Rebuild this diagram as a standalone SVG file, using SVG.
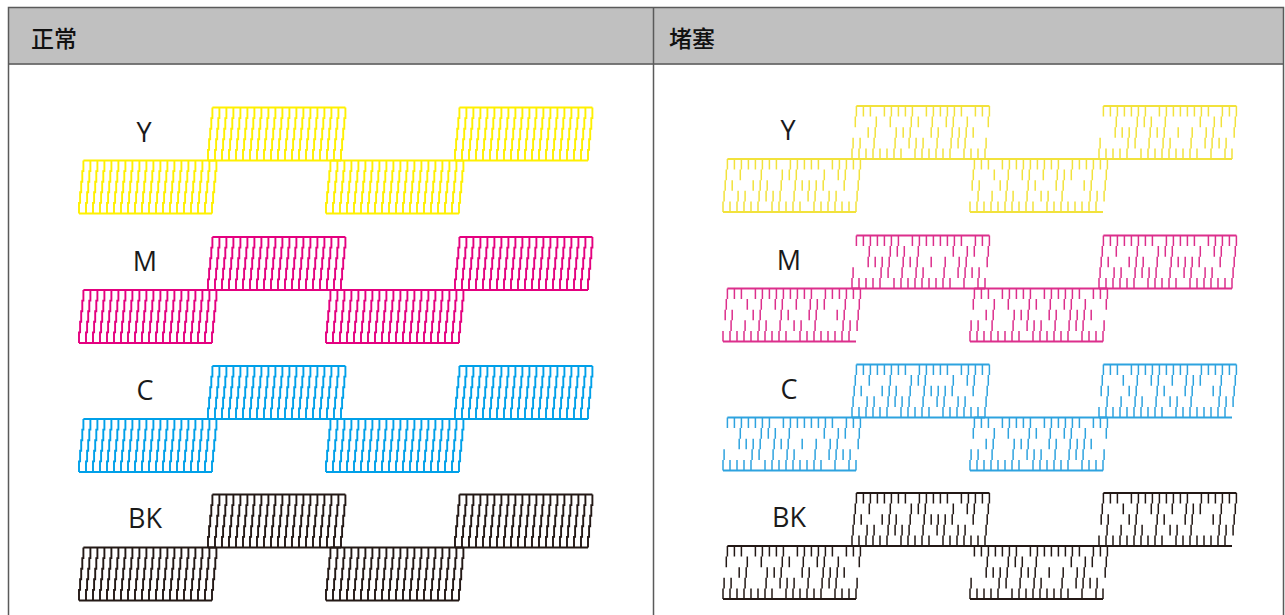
<svg xmlns="http://www.w3.org/2000/svg" xmlns:xlink="http://www.w3.org/1999/xlink" width="1285" height="615" viewBox="0 0 1285 615">
<style>
.hdr{font-family:"Noto Sans CJK SC","Noto Sans",sans-serif;font-size:23px;font-weight:500;fill:#111}
.lbl{font-family:"Open Sans","Noto Sans",sans-serif;font-size:27px;fill:#1a1a1a;text-anchor:middle}
</style>
<defs>
<g id="nb" fill="none" stroke="currentColor" stroke-width="1.9">
<path d="M0 53v-10.6h1.1v-10.6h1.1v-10.6h1.1v-10.6h1.1v-10.6m2.6 53v-10.6h1.1v-10.6h1.1v-10.6h1.1v-10.6h1.1v-10.6m2.6 53v-10.6h1.1v-10.6h1.1v-10.6h1.1v-10.6h1.1v-10.6m2.6 53v-10.6h1.1v-10.6h1.1v-10.6h1.1v-10.6h1.1v-10.6m2.6 53v-10.6h1.1v-10.6h1.1v-10.6h1.1v-10.6h1.1v-10.6m2.6 53v-10.6h1.1v-10.6h1.1v-10.6h1.1v-10.6h1.1v-10.6m2.6 53v-10.6h1.1v-10.6h1.1v-10.6h1.1v-10.6h1.1v-10.6m2.6 53v-10.6h1.1v-10.6h1.1v-10.6h1.1v-10.6h1.1v-10.6m2.6 53v-10.6h1.1v-10.6h1.1v-10.6h1.1v-10.6h1.1v-10.6m2.6 53v-10.6h1.1v-10.6h1.1v-10.6h1.1v-10.6h1.1v-10.6m2.6 53v-10.6h1.1v-10.6h1.1v-10.6h1.1v-10.6h1.1v-10.6m2.6 53v-10.6h1.1v-10.6h1.1v-10.6h1.1v-10.6h1.1v-10.6m2.6 53v-10.6h1.1v-10.6h1.1v-10.6h1.1v-10.6h1.1v-10.6m2.6 53v-10.6h1.1v-10.6h1.1v-10.6h1.1v-10.6h1.1v-10.6m2.6 53v-10.6h1.1v-10.6h1.1v-10.6h1.1v-10.6h1.1v-10.6m2.6 53v-10.6h1.1v-10.6h1.1v-10.6h1.1v-10.6h1.1v-10.6m2.6 53v-10.6h1.1v-10.6h1.1v-10.6h1.1v-10.6h1.1v-10.6m2.6 53v-10.6h1.1v-10.6h1.1v-10.6h1.1v-10.6h1.1v-10.6m2.6 53v-10.6h1.1v-10.6h1.1v-10.6h1.1v-10.6h1.1v-10.6m2.6 53v-10.6h1.1v-10.6h1.1v-10.6h1.1v-10.6h1.1v-10.6"/>
<path d="M4.4 0H137.4M0 53H133"/>
</g>
<path id="ka" d="M0 53v-10.6m1.1 0v-10.6m1.1 0v-10.6m1.1 0v-10.6m1.1 0v-10.6"/>
<path id="kb" d="M0 53v-10.6m1.1-10.6m1.1 0v-10.6m1.1 0v-10.6m1.1 0v-10.6"/>
<path id="kc" d="M0 53v-10.6m1.1 0v-10.6m1.1-10.6m1.1 0v-10.6m1.1 0v-10.6"/>
<path id="kd" d="M0 53v-10.6m1.1 0v-10.6m1.1 0v-10.6m1.1-10.6m1.1 0v-10.6"/>
<path id="ke" d="M0 53v-10.6m1.1 0v-10.6m1.1 0v-10.6m1.1 0v-10.6"/>
<path id="kf" d="M0 53v-10.6m1.1-10.6m1.1 0v-10.6m1.1-10.6m1.1 0v-10.6"/>
<path id="kg" d="M0 53m0-10.6m1.1 0v-10.6m1.1 0v-10.6m1.1 0v-10.6m1.1 0v-10.6"/>
<path id="kh" d="M0 53v-10.6m1.1 0v-10.6m1.1-10.6m1.1-10.6m1.1 0v-10.6"/>
<path id="ki" d="M0 53m0-10.6m1.1 0v-10.6m1.1 0v-10.6m1.1-10.6m1.1 0v-10.6"/>
<path id="kj" d="M0 53v-10.6m1.1-10.6m1.1 0v-10.6m1.1 0v-10.6"/>
<path id="kk" d="M0 53v-10.6m1.1-10.6m1.1-10.6m1.1 0v-10.6m1.1 0v-10.6"/>
<path id="kl" d="M0 53v-10.6m1.1 0v-10.6m1.1-10.6m1.1 0v-10.6"/>
<path id="kn" d="M0 53m0-10.6m1.1 0v-10.6m1.1-10.6m1.1 0v-10.6m1.1 0v-10.6"/>
<path id="kp" d="M0 53v-10.6m1.1-10.6m1.1-10.6m1.1-10.6m1.1 0v-10.6"/>
<path id="khl" d="M4.4 0H137.4M0 53H133" stroke-width="1.8"/>
<g id="c1" fill="none" stroke="currentColor" stroke-width="1.5">
<use href="#khl"/>
<use href="#ka" x="0"/><use href="#kf" x="7"/><use href="#kc" x="14"/><use href="#kh" x="21"/><use href="#kf" x="28"/><use href="#ka" x="35"/><use href="#ki" x="42"/><use href="#kh" x="49"/><use href="#ke" x="56"/><use href="#kk" x="63"/><use href="#ka" x="70"/><use href="#kf" x="77"/><use href="#ki" x="84"/><use href="#kd" x="91"/><use href="#kj" x="98"/><use href="#kh" x="105"/><use href="#kc" x="112"/><use href="#kb" x="119"/><use href="#kp" x="126"/><use href="#ka" x="133"/>
</g>
<g id="c2" fill="none" stroke="currentColor" stroke-width="1.5">
<use href="#khl"/>
<use href="#kc" x="0"/><use href="#kh" x="7"/><use href="#kf" x="14"/><use href="#ke" x="21"/><use href="#kp" x="28"/><use href="#kk" x="35"/><use href="#kd" x="42"/><use href="#kf" x="49"/><use href="#kg" x="56"/><use href="#kl" x="63"/><use href="#kh" x="70"/><use href="#kb" x="77"/><use href="#kd" x="84"/><use href="#kk" x="91"/><use href="#ka" x="98"/><use href="#ki" x="105"/><use href="#ke" x="112"/><use href="#kf" x="119"/><use href="#kp" x="126"/><use href="#kc" x="133"/>
</g>
<g id="c3" fill="none" stroke="currentColor" stroke-width="1.5">
<use href="#khl"/>
<use href="#kb" x="0"/><use href="#kd" x="7"/><use href="#kp" x="14"/><use href="#kl" x="21"/><use href="#kf" x="28"/><use href="#ka" x="35"/><use href="#kh" x="42"/><use href="#kk" x="49"/><use href="#ka" x="56"/><use href="#kf" x="63"/><use href="#kn" x="70"/><use href="#kh" x="77"/><use href="#kb" x="84"/><use href="#ke" x="91"/><use href="#kk" x="98"/><use href="#kp" x="105"/><use href="#kf" x="112"/><use href="#ka" x="119"/><use href="#kh" x="126"/><use href="#kg" x="133"/>
</g>
<g id="c4" fill="none" stroke="currentColor" stroke-width="1.5">
<use href="#khl"/>
<use href="#kh" x="0"/><use href="#kp" x="7"/><use href="#kb" x="14"/><use href="#kf" x="21"/><use href="#kd" x="28"/><use href="#kg" x="35"/><use href="#kk" x="42"/><use href="#ke" x="49"/><use href="#kf" x="56"/><use href="#ka" x="63"/><use href="#kh" x="70"/><use href="#kf" x="77"/><use href="#kp" x="84"/><use href="#kd" x="91"/><use href="#kk" x="98"/><use href="#ki" x="105"/><use href="#ke" x="112"/><use href="#kn" x="119"/><use href="#kh" x="126"/><use href="#kb" x="133"/>
</g>
</defs>

<g id="table">
<rect x="8.5" y="7.5" width="1275" height="57" fill="#c0c0c0"/>
<path d="M8.5 620V7.5H1283.5V620M8.5 64H1283.5M653.5 7.5V620" fill="none" stroke="#5a5a5a" stroke-width="1.5"/>
<text class="hdr" x="31" y="47">正常</text>
<text class="hdr" x="669" y="47">堵塞</text>
</g>

<g id="normal">
<g id="normal-Y" color="#FFF000">
<use href="#nb" x="79" y="160.5"/><use href="#nb" x="208" y="107.5"/><use href="#nb" x="326" y="160.5"/><use href="#nb" x="455" y="107.5"/>
</g>
<g id="normal-M" color="#E4007F">
<use href="#nb" x="79" y="290"/><use href="#nb" x="208" y="237"/><use href="#nb" x="326" y="290"/><use href="#nb" x="455" y="237"/>
</g>
<g id="normal-C" color="#00A0E9">
<use href="#nb" x="79" y="419"/><use href="#nb" x="208" y="366"/><use href="#nb" x="326" y="419"/><use href="#nb" x="455" y="366"/>
</g>
<g id="normal-BK" color="#231815">
<use href="#nb" x="79" y="547.5"/><use href="#nb" x="208" y="494.5"/><use href="#nb" x="326" y="547.5"/><use href="#nb" x="455" y="494.5"/>
</g>
<text class="lbl" x="144" y="142">Y</text>
<text class="lbl" x="145" y="271">M</text>
<text class="lbl" x="145" y="400">C</text>
<text class="lbl" x="145" y="528">BK</text>
</g>

<g id="clogged">
<g id="clogged-Y" color="#F2E23C">
<use href="#c1" x="723" y="159"/><use href="#c2" x="852" y="106"/><use href="#c3" x="970" y="159"/><use href="#c4" x="1099" y="106"/>
</g>
<g id="clogged-M" color="#DC2F8C">
<use href="#c3" x="723" y="288.5"/><use href="#c4" x="852" y="235.5"/><use href="#c2" x="970" y="288.5"/><use href="#c1" x="1099" y="235.5"/>
</g>
<g id="clogged-C" color="#2EA3DF">
<use href="#c4" x="723" y="417.5"/><use href="#c1" x="852" y="364.5"/><use href="#c2" x="970" y="417.5"/><use href="#c3" x="1099" y="364.5"/>
</g>
<g id="clogged-BK" color="#231815">
<use href="#c2" x="723" y="546"/><use href="#c1" x="852" y="493"/><use href="#c4" x="970" y="546"/><use href="#c3" x="1099" y="493"/>
</g>
<text class="lbl" x="788" y="140">Y</text>
<text class="lbl" x="789" y="269.5">M</text>
<text class="lbl" x="789" y="398.5">C</text>
<text class="lbl" x="789" y="527">BK</text>
</g>
</svg>
